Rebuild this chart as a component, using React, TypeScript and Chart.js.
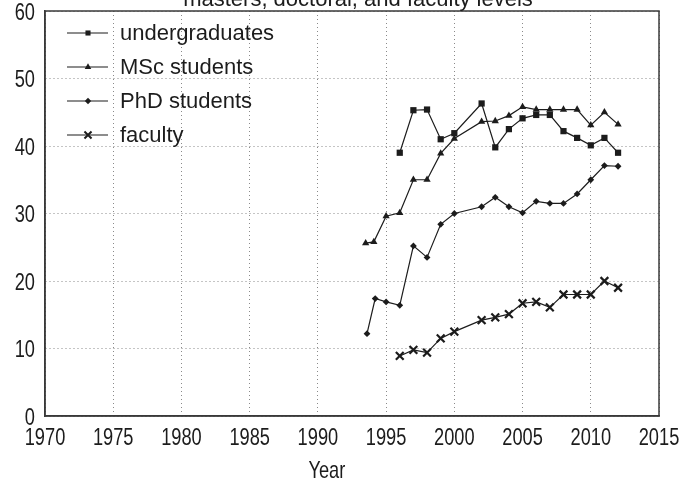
import React, { useEffect, useRef } from "react";
import { Chart, registerables } from "chart.js";

Chart.register(...registerables);

const titleText = "masters, doctoral, and faculty levels";
const xAxisTitle = "Year";
const seriesLabels = ["undergraduates", "MSc students", "PhD students", "faculty"];

const ugYears = [1996, 1997, 1998, 1999, 2000, 2002, 2003, 2004, 2005, 2006, 2007, 2008, 2009, 2010, 2011, 2012];
const ugValues = [39.0, 45.3, 45.4, 41.0, 41.9, 46.3, 39.8, 42.5, 44.1, 44.6, 44.6, 42.2, 41.2, 40.1, 41.2, 39.0];

const mscYears = [1993.5, 1994.1, 1995, 1996, 1997, 1998, 1999, 2000, 2002, 2003, 2004, 2005, 2006, 2007, 2008, 2009, 2010, 2011, 2012];
const mscValues = [25.6, 25.8, 29.6, 30.1, 35.0, 35.0, 38.9, 41.1, 43.6, 43.7, 44.5, 45.8, 45.4, 45.4, 45.4, 45.4, 43.1, 45.0, 43.2];

const phdYears = [1993.6, 1994.2, 1995, 1996, 1997, 1998, 1999, 2000, 2002, 2003, 2004, 2005, 2006, 2007, 2008, 2009, 2010, 2011, 2012];
const phdValues = [12.2, 17.4, 16.9, 16.4, 25.2, 23.5, 28.4, 30.0, 31.0, 32.4, 31.0, 30.1, 31.8, 31.5, 31.5, 32.9, 35.0, 37.1, 37.0];

const facYears = [1996, 1997, 1998, 1999, 2000, 2002, 2003, 2004, 2005, 2006, 2007, 2008, 2009, 2010, 2011, 2012];
const facValues = [8.9, 9.8, 9.4, 11.5, 12.5, 14.2, 14.6, 15.1, 16.7, 16.9, 16.1, 18.0, 18.0, 18.0, 20.0, 19.0];

const xMin = 1970;
const xMax = 2015;
const xStep = 5;
const yMin = 0;
const yMax = 60;
const yStep = 10;

const INK = "#1c1c1c";
const FRAME = "#3a3a3a";
const GRID = "#8a8a8a";
const FONT_FAMILY = "'Liberation Sans', Arial, sans-serif";
const AXIS_FONT = "24px " + FONT_FAMILY;
const AXIS_SQUEEZE = 0.76;

function toPoints(xs: number[], ys: number[]) {
  return xs.map((x, i) => ({ x, y: ys[i] }));
}

function drawMarker(ctx: CanvasRenderingContext2D, style: string, x: number, y: number, r: number) {
  ctx.save();
  ctx.fillStyle = INK;
  ctx.strokeStyle = INK;
  ctx.beginPath();
  if (style === "rect") {
    const s = Math.SQRT1_2 * r;
    ctx.rect(x - s, y - s, 2 * s, 2 * s);
    ctx.fill();
  } else if (style === "triangle") {
    ctx.moveTo(x, y - r);
    ctx.lineTo(x + r * 0.866, y + r * 0.5);
    ctx.lineTo(x - r * 0.866, y + r * 0.5);
    ctx.closePath();
    ctx.fill();
  } else if (style === "rectRot") {
    ctx.moveTo(x, y - r);
    ctx.lineTo(x + r, y);
    ctx.lineTo(x, y + r);
    ctx.lineTo(x - r, y);
    ctx.closePath();
    ctx.fill();
  } else {
    const o = r * Math.SQRT1_2;
    ctx.lineWidth = 2;
    ctx.moveTo(x - o, y - o);
    ctx.lineTo(x + o, y + o);
    ctx.moveTo(x + o, y - o);
    ctx.lineTo(x - o, y + o);
    ctx.stroke();
  }
  ctx.restore();
}

function squeezedText(ctx: CanvasRenderingContext2D, text: string, x: number, y: number, align: CanvasTextAlign) {
  ctx.save();
  ctx.translate(x, y);
  ctx.scale(AXIS_SQUEEZE, 1);
  ctx.textAlign = align;
  ctx.textBaseline = "alphabetic";
  ctx.fillText(text, 0, 0);
  ctx.restore();
}

const legendStyles = ["rect", "triangle", "rectRot", "crossRot"];
const legendRadii = [3.6, 3.8, 3.2, 5];

const decorPlugin = {
  id: "decor",
  afterDraw(chart: any) {
    const { ctx, chartArea } = chart;
    const { left, right, top, bottom } = chartArea;
    ctx.save();
    // frame
    ctx.strokeStyle = FRAME;
    ctx.lineWidth = 1.5;
    ctx.setLineDash([]);
    ctx.strokeRect(left, top, right - left, bottom - top);

    ctx.fillStyle = INK;

    // axis tick labels (condensed)
    ctx.font = AXIS_FONT;
    const xs = chart.scales.x;
    for (const t of xs.ticks) {
      squeezedText(ctx, String(t.value), xs.getPixelForValue(t.value), bottom + 29, "center");
    }
    const ys = chart.scales.y;
    for (const t of ys.ticks) {
      squeezedText(ctx, String(t.value), left - 10, ys.getPixelForValue(t.value) + 8.5, "right");
    }

    // x axis title
    squeezedText(ctx, xAxisTitle, left + (right - left) * 0.459, 478, "center");

    // title (second line, partly cut off)
    ctx.font = "22px " + FONT_FAMILY;
    ctx.textAlign = "center";
    ctx.textBaseline = "alphabetic";
    ctx.fillText(titleText, (left + right) / 2 + 6, top - 5);

    // legend
    ctx.textAlign = "left";
    ctx.textBaseline = "middle";
    ctx.font = "22px " + FONT_FAMILY;
    for (let i = 0; i < seriesLabels.length; i++) {
      const cy = top + 22 + i * 34;
      ctx.strokeStyle = INK;
      ctx.lineWidth = 1.2;
      ctx.beginPath();
      ctx.moveTo(left + 22, cy);
      ctx.lineTo(left + 63, cy);
      ctx.stroke();
      drawMarker(ctx, legendStyles[i], left + 43, cy, legendRadii[i]);
      ctx.fillStyle = INK;
      ctx.fillText(seriesLabels[i], left + 75, cy + 1);
    }
    ctx.restore();
  },
};

export default function App() {
  const ref = useRef<HTMLCanvasElement | null>(null);

  useEffect(() => {
    if (!ref.current) return;
    const common = {
      borderColor: INK,
      backgroundColor: INK,
      borderWidth: 1.2,
      pointBackgroundColor: INK,
      pointBorderColor: INK,
      fill: false,
      tension: 0,
    };
    const chart = new Chart(ref.current, {
      type: "line",
      data: {
        datasets: [
          { ...common, label: seriesLabels[0], data: toPoints(ugYears, ugValues), pointStyle: "rect", pointRadius: 4.4, pointBorderWidth: 0 },
          { ...common, label: seriesLabels[1], data: toPoints(mscYears, mscValues), pointStyle: "triangle", pointRadius: 4.2, pointBorderWidth: 0 },
          { ...common, label: seriesLabels[2], data: toPoints(phdYears, phdValues), pointStyle: "rectRot", pointRadius: 3.4, pointBorderWidth: 0 },
          { ...common, label: seriesLabels[3], data: toPoints(facYears, facValues), pointStyle: "crossRot", pointRadius: 5.5, pointBorderWidth: 2.2 },
        ],
      },
      options: {
        animation: false,
        responsive: false,
        layout: { padding: { left: 0, top: 11, right: 32, bottom: 0 } },
        plugins: {
          legend: { display: false },
          title: { display: false },
          tooltip: { enabled: false },
        },
        scales: {
          x: {
            type: "linear",
            min: xMin,
            max: xMax,
            afterFit: (s: any) => {
              s.height = 67;
            },
            ticks: { stepSize: xStep, display: false, autoSkip: false },
            grid: { color: GRID, lineWidth: 1, drawTicks: false },
            border: { display: true, color: FRAME, width: 1.5, dash: [1, 3] },
          },
          y: {
            type: "linear",
            min: yMin,
            max: yMax,
            afterFit: (s: any) => {
              s.width = 45;
            },
            ticks: { stepSize: yStep, display: false },
            grid: { color: GRID, lineWidth: 1, drawTicks: false },
            border: { display: true, color: FRAME, width: 1.5, dash: [1, 3] },
          },
        },
      },
      plugins: [decorPlugin],
    } as any);
    return () => chart.destroy();
  }, []);

  return (
    <div style={{ position: "absolute", left: 0, top: 0, width: 691, height: 483, background: "#fff" }}>
      <canvas ref={ref} width={691} height={483} style={{ width: 691, height: 483, display: "block" }} />
    </div>
  );
}
